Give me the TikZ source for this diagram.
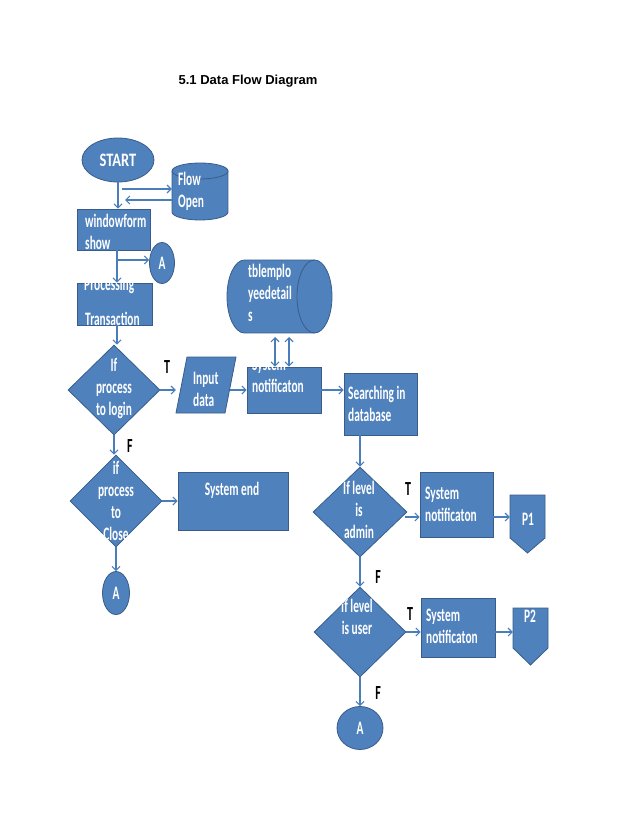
\documentclass[tikz,border=0pt]{standalone}
\usepackage{fontspec}
\usetikzlibrary{arrows.meta,shapes.geometric}
\newfontfamily\condf[FakeStretch=0.6]{Carlito}
\newfontfamily\condst[FakeStretch=0.76]{Carlito}
\newfontfamily\titlef{Liberation Sans}
\definecolor{boxblue}{HTML}{4F81BD}
\definecolor{boxedge}{HTML}{385D8A}
\definecolor{arrblue}{HTML}{4A7EBB}
\begin{document}
\begin{tikzpicture}[x=1pt,y=-1pt,
  shp/.style={draw=boxedge, fill=boxblue, line width=0.8pt, inner sep=0pt},
  edge/.style={draw=boxedge, line width=0.8pt},
  ghost/.style={inner sep=0pt, draw=none, fill=none},
  txt/.style={text=white, font=\condf\bfseries\fontsize{19}{22}\selectfont, inner sep=0pt, align=left},
  ctxt/.style={txt, align=center},
  lab/.style={text=black, font=\condf\bfseries\fontsize{20}{20}\selectfont, inner sep=0pt},
  arr/.style={draw=arrblue, line width=1.1pt, -{Straight Barb[length=4pt,width=8pt]}},
  darr/.style={draw=arrblue, line width=1.1pt, {Straight Barb[length=4pt,width=8pt]}-{Straight Barb[length=4pt,width=8pt]}}
]
\useasboundingbox (0,0) rectangle (638,826);
\fill[white] (0,0) rectangle (638,826);

% title
\node[inner sep=0pt, font=\titlef\bfseries\fontsize{13}{15}\selectfont] (title) at (248,81) {5.1 Data Flow Diagram};

% START
\node[shp, ellipse, minimum width=72, minimum height=44] (start) at (118,160) {};
\node[txt, font=\condst\bfseries\fontsize{19}{22}\selectfont] (startt) at (start) {START};

% Flow Open cylinder
\fill[boxblue] (172,171) rectangle (228,212);
\fill[boxblue] (200,212) ellipse[x radius=28, y radius=8];
\draw[edge] (172,171) -- (172,212) arc[start angle=180, end angle=0, x radius=28, y radius=8] -- (228,171);
\filldraw[fill=boxblue, edge] (200,171) ellipse[x radius=28, y radius=8];
\node[ghost, minimum width=56, minimum height=57] (flow) at (200,191.5) {};
\node[txt, anchor=west] (flowt) at (178,191) {Flow\\Open};

% windowform show
\node[shp, rectangle, minimum width=73, minimum height=41] (win) at (113.5,229.5) {};
\node[txt, anchor=west] (wint) at (85,231.5) {windowform\\show};

% connector A (top)
\node[shp, ellipse, minimum width=25, minimum height=41] (a1) at (162,263) {};
\node[txt] (a1t) at (a1) {A};

% Processing Transaction
\node[shp, rectangle, minimum width=75, minimum height=42] (proc) at (114.5,304) {};
\begin{scope}
  \clip (proc.north west) rectangle (proc.south east);
  \node[txt, anchor=base west] (proct1) at (84,290) {Processing};
  \node[txt, anchor=base west] (proct2) at (85,325) {Transaction};
\end{scope}

% decision 1
\node[shp, diamond, minimum width=92, minimum height=90] (d1) at (114,390) {};
\node[ctxt] (d1t) at (114,389) {If\\process\\to login};

% Input data
\draw[shp] (176,413) -- (187,357) -- (236,357) -- (225,413) -- cycle;
\node[ghost, minimum width=60, minimum height=56] (inp) at (206,385) {};
\node[txt, anchor=west] (inpt) at (193,389) {Input\\data};

% tblemployeedetails cylinder
\fill[boxblue] (244.5,260) rectangle (314.5,333);
\fill[boxblue] (244.5,296.5) ellipse[x radius=17.5, y radius=36.5];
\draw[edge] (314.5,260) -- (244.5,260) arc[start angle=270, end angle=90, x radius=17.5, y radius=36.5] -- (314.5,333);
\filldraw[fill=boxblue, edge] (314.5,296.5) ellipse[x radius=17.5, y radius=36.5];
\node[ghost, minimum width=105, minimum height=73] (tbl) at (279.5,296.5) {};
\node[txt, anchor=west] (tblt) at (248,292.5) {tblemplo\\yeedetail\\s};

% System notification 1
\node[shp, rectangle, minimum width=74, minimum height=46] (sn1) at (284,390) {};
\begin{scope}
  \clip (sn1.north west) rectangle (sn1.south east);
  \node[txt, anchor=west] (sn1t) at (252,375) {System\\notificaton};
\end{scope}

% Searching in database
\node[shp, rectangle, minimum width=73, minimum height=62] (search) at (380.5,404) {};
\node[txt, anchor=west] (searcht) at (348,403.5) {Searching in\\database};

% decision 2
\node[shp, diamond, minimum width=94, minimum height=90] (d2) at (360,512) {};
\node[ctxt] (d2t) at (359,510) {If level\\is\\admin};

% System notification 2
\node[shp, rectangle, minimum width=73, minimum height=65] (sn2) at (456.5,504.5) {};
\node[txt, anchor=west] (sn2t) at (425,504) {System\\notificaton};

% P1
\draw[shp] (510,495) -- (545,495) -- (545,538) -- (527.5,553) -- (510,538) -- cycle;
\node[ghost, minimum width=35, minimum height=58] (p1) at (527.5,524) {};
\node[txt] (p1t) at (528,519) {P1};

% decision 3
\node[shp, diamond, minimum width=92, minimum height=90] (d3) at (360,632) {};
\begin{scope}
  \clip (d3.north) -- (d3.east) -- (d3.south) -- (d3.west) -- cycle;
  \node[ctxt] (d3t) at (357,616.5) {If level\\is user};
\end{scope}

% System notification 3
\node[shp, rectangle, minimum width=74, minimum height=59] (sn3) at (458,627.5) {};
\node[txt, anchor=west] (sn3t) at (426,626.5) {System\\notificaton};

% P2
\draw[shp] (513,608) -- (548,608) -- (548,648) -- (530.5,665) -- (513,648) -- cycle;
\node[ghost, minimum width=35, minimum height=57] (p2) at (530.5,636.5) {};
\node[txt] (p2t) at (530,616) {P2};

% connector A (bottom right)
\node[shp, ellipse, minimum width=46, minimum height=43] (a3) at (360,728) {};
\node[txt] (a3t) at (a3) {A};

% decision 4
\node[shp, diamond, minimum width=92, minimum height=92] (d4) at (116,501) {};
\begin{scope}
  \clip (d4.north) -- (d4.east) -- (d4.south) -- (d4.west) -- cycle;
  \node[ctxt] (d4t) at (116,501) {if\\process\\to\\Close};
\end{scope}

% System end
\node[shp, rectangle, minimum width=110, minimum height=58] (sysend) at (233,501) {};
\node[txt] (sysendt) at (232,490) {System end};

% connector A (bottom left)
\node[shp, ellipse, minimum width=27, minimum height=43] (a2) at (116,593) {};
\node[txt] (a2t) at (a2) {A};

% labels
\node[lab] (t1) at (167,367) {T};
\node[lab] (f1) at (130,446) {F};
\node[lab] (t2) at (408,489) {T};
\node[lab] (f2) at (378,577) {F};
\node[lab] (t3) at (410,614) {T};
\node[lab] (f3) at (378,693) {F};

% connectors
\coordinate (c1) at (122,189);
\coordinate (c2) at (125,200);
\coordinate (c3) at (117,260);
\coordinate (c4) at (275,337);
\coordinate (c5) at (289,337);
\coordinate (c6) at (405,517);
\coordinate (c7) at (230,390);
\draw[arr] (start.south) -- (start.south |- win.north);
\draw[arr] (c1) -- (c1 -| flow.west);
\draw[arr] (c2 -| flow.west) -- (c2);
\draw[arr] (c3) -- (c3 -| a1.west);
\draw[arr] (c3 |- win.south) -- (c3 |- proc.north);
\draw[arr] (c3 |- proc.south) -- (c3 |- d1.north);
\draw[arr] (d1.east) -- (d1.east -| inp.west);
\draw[arr] (c7) -- (c7 -| sn1.west);
\draw[darr] (c4) -- (c4 |- sn1.north);
\draw[darr] (c5) -- (c5 |- sn1.north);
\draw[arr] (sn1.east) -- (sn1.east -| search.west);
\draw[arr] (d2.north |- search.south) -- (d2.north);
\draw[arr] (c6) -- (c6 -| sn2.west);
\draw[arr] (c6 -| sn2.east) -- (c6 -| p1.west);
\draw[arr] (d2.south) -- (d3.north);
\draw[arr] (d3.east) -- (d3.east -| sn3.west);
\draw[arr] (d3.east -| sn3.east) -- (d3.east -| p2.west);
\draw[arr] (d3.south) -- (a3.north);
\draw[arr] (d1.south) -- (d1.south |- d4.north);
\draw[arr] (d4.east) -- (d4.east -| sysend.west);
\draw[arr] (d4.south) -- (a2.north);
\end{tikzpicture}
\end{document}
